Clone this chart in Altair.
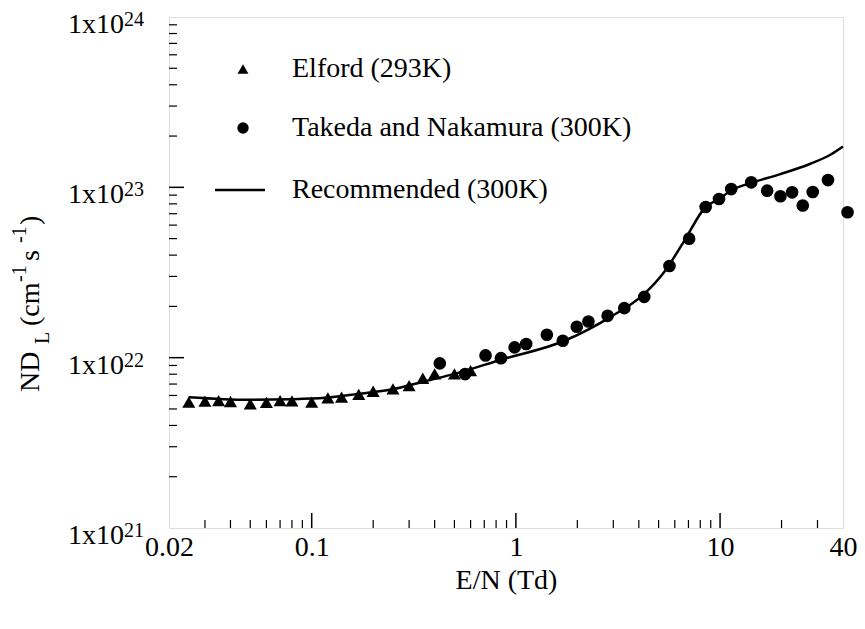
import altair as alt
import pandas as pd

# ---------------- data ----------------
elford_x = [0.025, 0.030, 0.035, 0.040, 0.050, 0.060, 0.070, 0.080, 0.10, 0.12,
            0.14, 0.17, 0.20, 0.25, 0.30, 0.35, 0.40, 0.50, 0.60]
elford_y = [5.48e21, 5.55e21, 5.60e21, 5.53e21, 5.36e21, 5.46e21, 5.60e21, 5.58e21,
            5.48e21, 5.81e21, 5.86e21, 6.08e21, 6.35e21, 6.56e21, 6.86e21, 7.57e21,
            8.03e21, 8.03e21, 8.39e21]

takeda_x = [0.424, 0.564, 0.710, 0.845, 0.986, 1.123, 1.418, 1.697, 1.987, 2.266,
            2.814, 3.396, 4.252, 5.652, 7.054, 8.501, 9.88, 11.34, 14.21, 17.01,
            19.75, 22.53, 25.41, 28.43, 33.77, 42.1]
takeda_y = [9.26e21, 8.01e21, 1.031e22, 9.93e21, 1.149e22, 1.203e22, 1.363e22,
            1.257e22, 1.518e22, 1.631e22, 1.761e22, 1.953e22, 2.274e22, 3.451e22,
            4.997e22, 7.67e22, 8.545e22, 9.77e22, 1.070e23, 9.56e22, 8.86e22,
            9.35e22, 7.82e22, 9.39e22, 1.103e23, 7.14e22]

rec_x = [0.025, 0.0491, 0.0797, 0.1165, 0.1693, 0.2454, 0.3584, 0.5212, 0.8453,
         1.730, 2.911, 4.252, 5.325, 6.668, 8.472, 9.915, 11.34, 14.21, 19.75,
         27.68, 34.66, 40.0]
rec_y = [5.86e21, 5.66e21, 5.70e21, 5.81e21, 6.13e21, 6.50e21, 7.27e21, 8.14e21,
         9.73e21, 1.257e22, 1.737e22, 2.367e22, 3.184e22, 4.833e22, 7.64e22,
         8.56e22, 9.60e22, 1.062e23, 1.196e23, 1.376e23, 1.553e23, 1.737e23]

x_tick_labels = [0.02, 0.1, 1, 10, 40]
x_major_ticks = [0.1, 1, 10]
x_minor_ticks = [0.03, 0.04, 0.05, 0.06, 0.07, 0.08, 0.09,
                 0.2, 0.3, 0.4, 0.5, 0.6, 0.7, 0.8, 0.9,
                 2, 3, 4, 5, 6, 7, 8, 9, 20, 30]
y_tick_values = [1e21, 1e22, 1e23, 1e24]
y_tick_base = ["1x10", "1x10", "1x10", "1x10"]
y_tick_exp = ["21", "22", "23", "24"]
y_major_ticks = [1e22, 1e23]
y_minor_ticks = [m * 10.0 ** e for e in (21, 22, 23) for m in (2, 3, 4, 5, 6, 7, 8, 9)]

legend_labels = ["Elford (293K)", "Takeda and Nakamura (300K)", "Recommended (300K)"]

FONT = "Liberation Serif, Times New Roman, DejaVu Serif, serif"
FS = 28
FS_SMALL = 20
W, H = 674, 511

xs = alt.Scale(type="log", domain=[0.02, 40], nice=False)
ys = alt.Scale(type="log", domain=[1e21, 1e24], nice=False)

df_el = pd.DataFrame({"x": elford_x, "y": elford_y})
df_tk = pd.DataFrame({"x": takeda_x, "y": takeda_y})
df_rec = pd.DataFrame({"x": rec_x, "y": rec_y})

xaxis = alt.Axis(values=x_tick_labels, format="~g", ticks=False, domain=False,
                 grid=False, labelFont=FONT, labelFontSize=FS, labelColor="black",
                 labelPadding=5, title="E/N (Td)", titleFont=FONT, titleFontSize=FS,
                 titleFontWeight="normal", titleColor="black", titlePadding=5,
                 labelFlush=False, labelOverlap=False)

line = alt.Chart(df_rec).mark_line(color="black", strokeWidth=2.5,
                                   interpolate="monotone").encode(
    x=alt.X("x:Q", scale=xs, axis=xaxis),
    y=alt.Y("y:Q", scale=ys, axis=None),
)

tri = alt.Chart(df_el).mark_point(shape="triangle-up", filled=True, color="black",
                                  opacity=1, size=170).encode(
    x=alt.X("x:Q", scale=xs), y=alt.Y("y:Q", scale=ys))

circ = alt.Chart(df_tk).mark_point(shape="circle", filled=True, color="black",
                                   opacity=1, size=160).encode(
    x=alt.X("x:Q", scale=xs), y=alt.Y("y:Q", scale=ys))

# inward ticks
xmaj = alt.Chart(pd.DataFrame({"x": x_major_ticks})).mark_rule(
    color="black", strokeWidth=1.5).encode(
    x=alt.X("x:Q", scale=xs), y=alt.value(H), y2=alt.value(H - 15))
xmin = alt.Chart(pd.DataFrame({"x": x_minor_ticks})).mark_rule(
    color="black", strokeWidth=1.2).encode(
    x=alt.X("x:Q", scale=xs), y=alt.value(H), y2=alt.value(H - 8))
ymaj = alt.Chart(pd.DataFrame({"y": y_major_ticks})).mark_rule(
    color="black", strokeWidth=1.5).encode(
    y=alt.Y("y:Q", scale=ys), x=alt.value(0), x2=alt.value(15))
ymin = alt.Chart(pd.DataFrame({"y": y_minor_ticks})).mark_rule(
    color="black", strokeWidth=1.2).encode(
    y=alt.Y("y:Q", scale=ys), x=alt.value(0), x2=alt.value(8))

# y tick labels with superscript exponents
df_yl = pd.DataFrame({"y": y_tick_values, "base": y_tick_base, "exp": y_tick_exp})
ylab_base = alt.Chart(df_yl).mark_text(font=FONT, fontSize=FS, align="right",
                                       baseline="middle", dy=8, color="black").encode(
    y=alt.Y("y:Q", scale=ys), x=alt.value(-45), text="base:N")
ylab_exp = alt.Chart(df_yl).mark_text(font=FONT, fontSize=FS_SMALL, align="left",
                                      baseline="middle", dy=3, color="black").encode(
    y=alt.Y("y:Q", scale=ys), x=alt.value(-45), text="exp:N")

# y-axis title pieces (rotated)
title_pieces = ["ND", "L", "(cm", "-1", "s", "-1", ")"]
title_sizes = [FS, FS_SMALL, FS, FS_SMALL, FS, FS_SMALL, FS]
title_ypix = [375, 327, 309, 265, 244, 226, 208]
title_xpix = [-138, -126, -138, -149, -138, -149, -138]
ytitle_layers = []
for txt, fs, yp, xp in zip(title_pieces, title_sizes, title_ypix, title_xpix):
    ytitle_layers.append(
        alt.Chart(pd.DataFrame({"t": [txt]})).mark_text(
            font=FONT, fontSize=fs, angle=270, align="left", baseline="middle",
            color="black").encode(x=alt.value(xp), y=alt.value(yp), text="t:N"))

# legend
df_l0 = pd.DataFrame({"t": [legend_labels[0]]})
df_l1 = pd.DataFrame({"t": [legend_labels[1]]})
df_l2 = pd.DataFrame({"t": [legend_labels[2]]})
leg_tri = alt.Chart(df_l0).mark_point(shape="triangle-up", filled=True, color="black",
                                      opacity=1, size=120).encode(
    x=alt.value(74), y=alt.value(52))
leg_circ = alt.Chart(df_l1).mark_point(shape="circle", filled=True, color="black",
                                       opacity=1, size=130).encode(
    x=alt.value(74), y=alt.value(111))
leg_line = alt.Chart(df_l2).mark_rule(color="black", strokeWidth=2.5).encode(
    x=alt.value(46), x2=alt.value(96), y=alt.value(173))
leg_texts = []
for d, yp in zip([df_l0, df_l1, df_l2], [52, 111, 173]):
    leg_texts.append(alt.Chart(d).mark_text(font=FONT, fontSize=FS, align="left",
                                            baseline="middle", color="black").encode(
        x=alt.value(123), y=alt.value(yp), text="t:N"))

chart = alt.layer(
    line, xmaj, xmin, ymaj, ymin, tri, circ, ylab_base, ylab_exp,
    *ytitle_layers, leg_tri, leg_circ, leg_line, *leg_texts
).resolve_scale(x="shared", y="shared").properties(
    width=W, height=H,
    padding={"left": 161, "top": 9, "right": 14, "bottom": 90},
    autosize=alt.AutoSizeParams(type="none"),
).configure_view(stroke="black", strokeWidth=2.5).configure(background="white")

chart.save("out.html", embed_options={"renderer": "svg", "actions": False})
